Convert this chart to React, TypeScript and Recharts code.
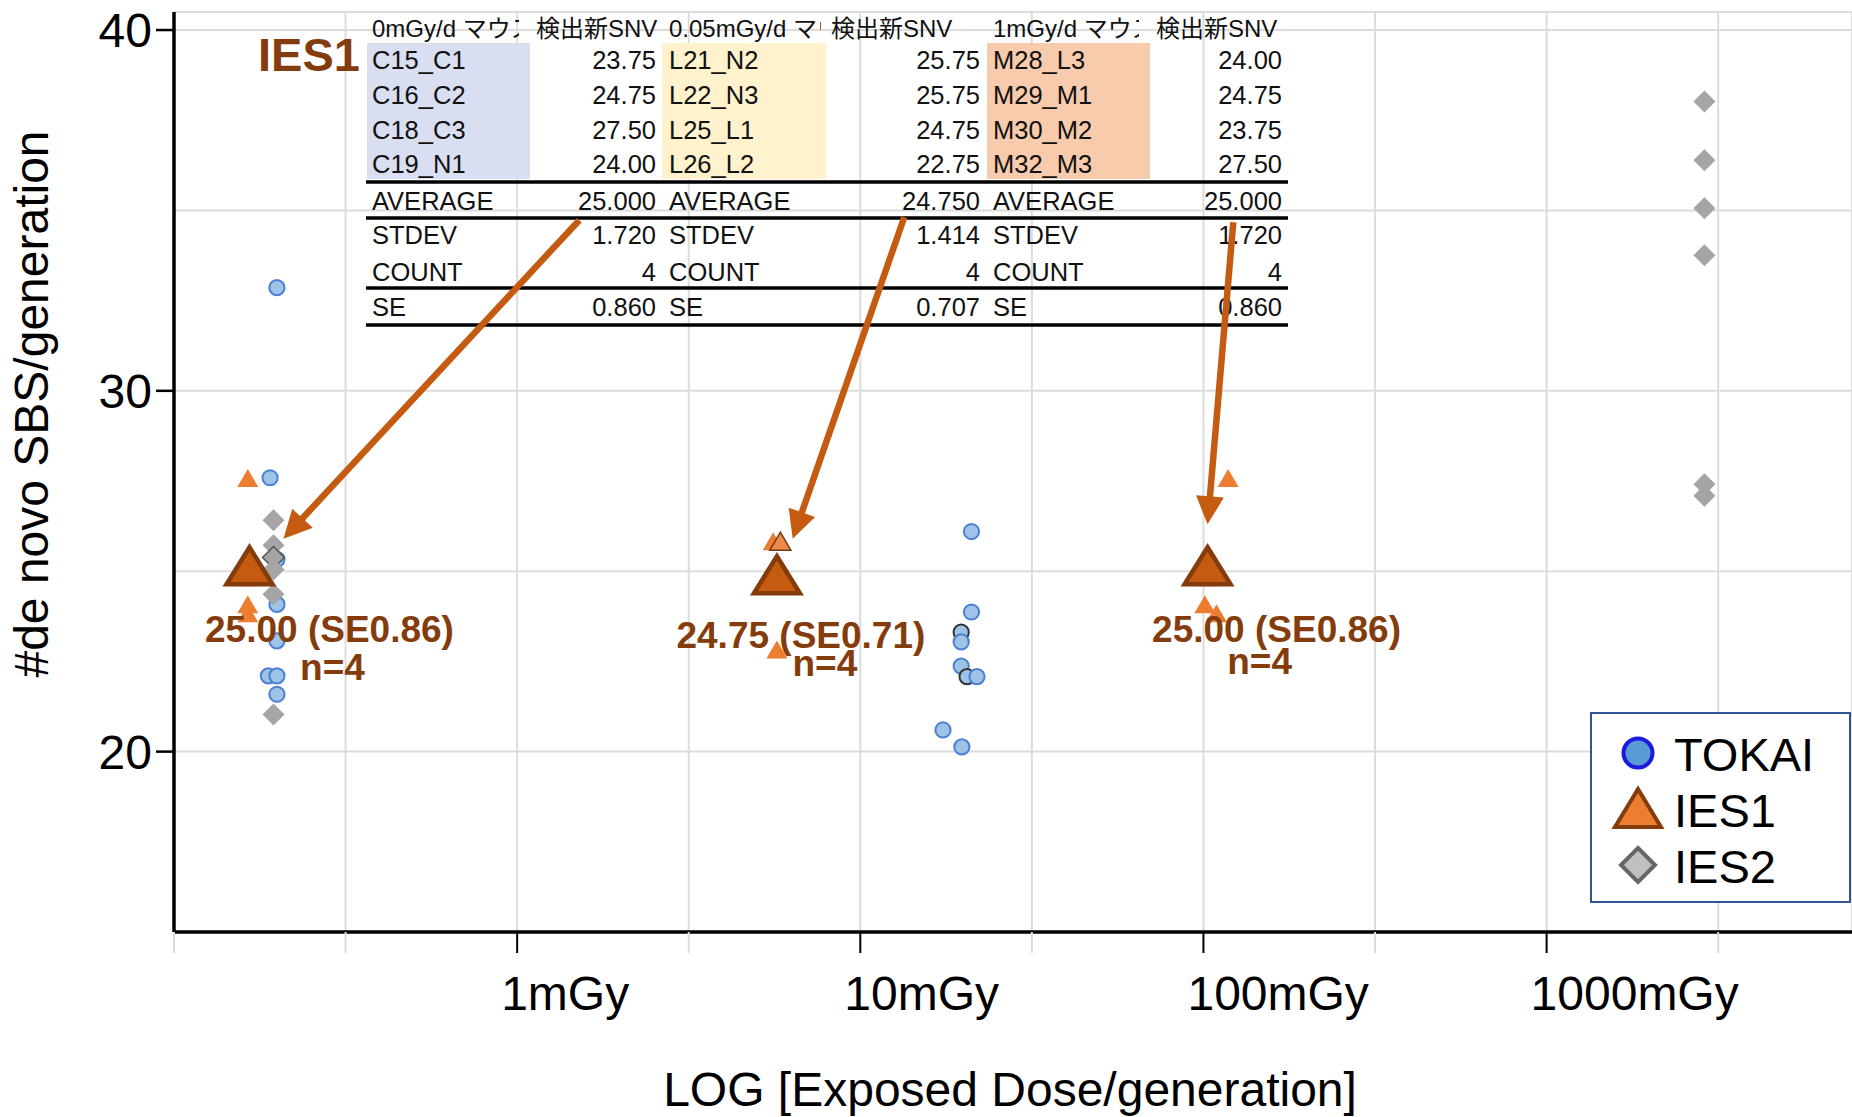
import React from 'react'
import {
  ScatterChart, Scatter, XAxis, YAxis, CartesianGrid, ReferenceLine, Legend,
} from 'recharts'

const W = 1852
const H = 1117
const SANS = '"Liberation Sans", Arial, Helvetica, sans-serif'
const SANS_JP = '"Liberation Sans", Arial, "Noto Sans CJK JP", sans-serif'
const BROWN = '#843C0C'
const RUST = '#C55A11'

// x = log10(dose per generation, mGy); the 0 dose mice are parked left of 1mGy
const X_TICKS = [-1, -0.5, 0, 0.5, 1, 1.5, 2, 2.5, 3, 3.5]
const X_LABELS = ['1mGy', '10mGy', '100mGy', '1000mGy']
const Y_TICKS = [15, 20, 25, 30, 35, 40]

const TOKAI_X = [-0.7, -0.72, -0.7, -0.7, -0.7, -0.725, -0.7, -0.7,
  1.324, 1.324, 1.294, 1.294, 1.294, 1.311, 1.34, 1.241, 1.296]
const TOKAI_Y = [32.86, 27.59, 25.33, 24.08, 23.07, 22.1, 22.1, 21.59,
  26.1, 23.87, 23.31, 23.04, 22.37, 22.08, 22.08, 20.6, 20.13]
const TOKAI_OUTLINED = [10, 13]

const IES2_X = [-0.71, -0.71, -0.71, -0.71, -0.71, -0.71, 3.46, 3.46, 3.46, 3.46, 3.46, 3.46]
const IES2_Y = [26.41, 25.72, 25.38, 25.05, 24.36, 21.03, 38.02, 36.39, 35.06, 33.76, 27.41, 27.09]
const IES2_OUTLINED = [2]

// IES1 sheet: 3 dose groups x 4 mice
const HEADS = ['0mGy/d マウス', '0.05mGy/d マウス', '1mGy/d マウス']
const MICE_0 = ['C15_C1', 'C16_C2', 'C18_C3', 'C19_N1']
const MICE_005 = ['L21_N2', 'L22_N3', 'L25_L1', 'L26_L2']
const MICE_1 = ['M28_L3', 'M29_M1', 'M30_M2', 'M32_M3']
const SNV_0 = [23.75, 24.75, 27.5, 24.0]
const SNV_005 = [25.75, 25.75, 24.75, 22.75]
const SNV_1 = [24.0, 24.75, 23.75, 27.5]
const IES1_X_0 = [-0.785, -0.785, -0.785, -0.785]
const IES1_X_005 = [0.746, 0.767, 0.755, 0.757]
const IES1_X_1 = [2.004, 2.012, 2.038, 2.072]
const MEAN_X = [-0.78, 0.757, 2.012]

// arrows from the sheet down to the group means, [from, to] in data units
const ARROWS = [
  [[0.181, 34.73], [-0.681, 25.9]],
  [[1.128, 34.81], [0.803, 25.9]],
  [[2.087, 34.67], [2.012, 26.3]],
]

const stats = (v: number[]) => {
  const n = v.length
  const avg = v.reduce((s, d) => s + d, 0) / n
  const sd = Math.sqrt(v.reduce((s, d) => s + (d - avg) ** 2, 0) / (n - 1))
  return { n, avg, sd, se: sd / Math.sqrt(n) }
}

const groups = [
  { head: HEADS[0], mice: MICE_0, snv: SNV_0, xs: IES1_X_0 },
  { head: HEADS[1], mice: MICE_005, snv: SNV_005, xs: IES1_X_005 },
  { head: HEADS[2], mice: MICE_1, snv: SNV_1, xs: IES1_X_1 },
].map((g) => ({ ...g, ...stats(g.snv) }))

const tokai = TOKAI_X.map((x, i) => ({ x, y: TOKAI_Y[i], hl: TOKAI_OUTLINED.includes(i) }))
const ies2 = IES2_X.map((x, i) => ({ x, y: IES2_Y[i], hl: IES2_OUTLINED.includes(i) }))
const ies1 = groups.flatMap((g, gi) => g.snv.map((y, k) => ({ x: g.xs[k], y, hl: gi === 1 && k === 1 })))
const means = groups.map((g, gi) => ({
  x: MEAN_X[gi], y: g.avg, g: gi,
  note: `${g.avg.toFixed(2)} (SE${g.se.toFixed(2)})`, n: g.n,
}))

// label offsets from each mean marker: [dx1, dy1, dx2, dy2]
const NOTE_OFFSET = [[80, 71, 83, 109], [24, 68, 48, 96], [69, 71, 52, 103]]

const tri = (cx: number, cy: number, hw: number, up: number, down: number) =>
  `${cx},${cy - up} ${cx + hw},${cy + down} ${cx - hw},${cy + down}`

const TokaiDot = (p: any) => (
  <circle cx={p.cx} cy={p.cy} r={7.6} fill="#9DC3E6"
    stroke={p.payload.hl ? '#333' : '#4A7FD4'} strokeWidth={2} />
)

const Ies1Dot = (p: any) => (
  <polygon points={tri(p.cx, p.cy, 10.5, 12, 6)} fill={p.payload.hl ? '#EE8A48' : '#ED7D31'}
    stroke={p.payload.hl ? '#6B3A1A' : 'none'} strokeWidth={1.5} />
)

const Ies2Dot = (p: any) => {
  const { cx, cy } = p
  const h = 11
  return (
    <polygon points={`${cx},${cy - h} ${cx + h},${cy} ${cx},${cy + h} ${cx - h},${cy}`}
      fill="#A5A5A5" stroke={p.payload.hl ? '#555' : 'none'} strokeWidth={1.5} />
  )
}

const MeanMark = (p: any) => {
  const { cx, cy, payload } = p
  const o = NOTE_OFFSET[payload.g]
  return (
    <g>
      <polygon points={tri(cx, cy, 23, 24, 13)} fill={RUST} stroke={BROWN} strokeWidth={4.5} />
      <g fontFamily={SANS} fontSize={37} fontWeight="bold" fill={BROWN} textAnchor="middle">
        <text x={cx + o[0]} y={cy + o[1]}>{payload.note}</text>
        <text x={cx + o[2]} y={cy + o[3]}>n={payload.n}</text>
      </g>
    </g>
  )
}

const Arrow = (p: any) => {
  const { x1, y1, x2, y2 } = p
  if (x1 == null) return null
  const L = Math.hypot(x2 - x1, y2 - y1)
  const ux = (x2 - x1) / L
  const uy = (y2 - y1) / L
  const bx = x2 - ux * 28
  const by = y2 - uy * 28
  return (
    <g>
      <line x1={x1} y1={y1} x2={bx + ux * 2} y2={by + uy * 2} stroke={RUST} strokeWidth={6.5} />
      <polygon points={`${x2},${y2} ${bx - uy * 14},${by + ux * 14} ${bx + uy * 14},${by - ux * 14}`} fill={RUST} />
    </g>
  )
}

const XTick = (p: any) => {
  const { x, y, payload } = p
  const v = payload.value
  const major = v >= 0 && Number.isInteger(v)
  return (
    <g>
      <line x1={x} x2={x} y1={y} y2={y + 21} stroke={major ? '#000' : '#DCDCDC'} strokeWidth={2} />
      {major && (
        <text x={x - 16} y={y + 78} fontSize={48} fontFamily={SANS} fill="#000">{X_LABELS[v]}</text>
      )}
    </g>
  )
}

const YTick = (p: any) => {
  const { x, y, payload } = p
  const v = payload.value
  if (v % 10 !== 0) return <g />
  return (
    <g>
      <line x1={x - 18} x2={x} y1={y} y2={y} stroke="#000" strokeWidth={2.5} />
      <text x={x - 22} y={y + 17} textAnchor="end" fontSize={48} fontFamily={SANS} fill="#000">{v}</text>
    </g>
  )
}

const YTitle = () => (
  <text transform="translate(48, 404) rotate(-90)" textAnchor="middle" fontSize={48} fontFamily={SANS} fill="#000">
    #de novo SBS/generation
  </text>
)

const XTitle = (p: any) => {
  const vb = p.viewBox || { x: 174, width: 1678 }
  return (
    <text x={vb.x + vb.width / 2 - 3} y={1106} textAnchor="middle" fontSize={48} fontFamily={SANS} fill="#000">
      LOG [Exposed Dose/generation]
    </text>
  )
}

const LEGEND_ORDER = ['TOKAI', 'IES1', 'IES2']

const legendIcon = (name: string, cx: number, cy: number) => {
  if (name === 'TOKAI') return <circle cx={cx} cy={cy} r={14.5} fill="#5B9BD5" stroke="#1B1BE0" strokeWidth={4} />
  if (name === 'IES1') return <polygon points={tri(cx, cy, 23, 20, 18)} fill="#ED7D31" stroke={BROWN} strokeWidth={4} />
  const h = 17
  return (
    <polygon points={`${cx},${cy - h} ${cx + h},${cy} ${cx},${cy + h} ${cx - h},${cy}`}
      fill="#C0C0C0" stroke="#666" strokeWidth={4} />
  )
}

const LegendBox = (props: any) => {
  const names = (props.payload || []).map((e: any) => e.value)
  const items = LEGEND_ORDER.filter((n) => names.includes(n))
  return (
    <svg width={262} height={192} style={{ display: 'block' }}>
      <rect x={1} y={1} width={259} height={189} fill="#fff" stroke="#2F5597" strokeWidth={2} />
      {items.map((name, i) => {
        const cy = 41 + i * 56
        return (
          <g key={name}>
            {legendIcon(name, 48, cy)}
            <text x={84} y={cy + 17.5} fontSize={47} fontFamily={SANS} fill="#000">{name}</text>
          </g>
        )
      })}
    </svg>
  )
}

// the pasted spreadsheet block above the plot
function SnvTable() {
  const labelX = [372, 669, 993]
  const valueX = [656, 980, 1282]
  const headCut = [519, 821, 1139]
  const headValX = [536, 831, 1156]
  const fills = [[367, 530, '#D9DFF1'], [662, 826, '#FFF2CC'], [987, 1150, '#F8CBAD']]
  const rowBase = [69, 104, 138.7, 173.3]
  const statBase = [210, 244.3, 280.7, 316]
  const rules = [182, 218, 288, 325]
  const statNames = ['AVERAGE', 'STDEV', 'COUNT', 'SE']
  return (
    <g fontFamily={SANS_JP} fontSize={25.5} fill="#111">
      <defs>
        {headCut.map((c, i) => (
          <clipPath key={i} id={`headclip${i}`}>
            <rect x={labelX[i] - 6} y={0} width={c - labelX[i] + 6} height={45} />
          </clipPath>
        ))}
      </defs>
      {fills.map(([a, b, c], i) => (
        <rect key={i} x={a as number} y={43} width={(b as number) - (a as number)} height={136} fill={c as string} />
      ))}
      {groups.map((g, i) => {
        const statVals = [g.avg.toFixed(3), g.sd.toFixed(3), String(g.n), g.se.toFixed(3)]
        return (
          <g key={i}>
            <text x={labelX[i]} y={37} fontSize={24} clipPath={`url(#headclip${i})`}>{g.head}</text>
            <text x={headValX[i]} y={37} fontSize={24}>検出新SNV</text>
            {g.mice.map((m, k) => (
              <g key={m}>
                <text x={labelX[i]} y={rowBase[k]}>{m}</text>
                <text x={valueX[i]} y={rowBase[k]} textAnchor="end">{g.snv[k].toFixed(2)}</text>
              </g>
            ))}
            {statNames.map((s, k) => (
              <g key={s}>
                <text x={labelX[i]} y={statBase[k]}>{s}</text>
                <text x={valueX[i]} y={statBase[k]} textAnchor="end">{statVals[k]}</text>
              </g>
            ))}
          </g>
        )
      })}
      {rules.map((y) => (
        <line key={y} x1={366} x2={1288} y1={y} y2={y} stroke="#000" strokeWidth={3.5} />
      ))}
      <text x={258} y={71} fontSize={47} fontWeight="bold" fontFamily={SANS} fill={BROWN}>IES1</text>
    </g>
  )
}

export default function App() {
  return (
    <div style={{ position: 'absolute', left: 0, top: 0, width: W, height: H, background: '#fff', fontFamily: SANS }}>
      <ScatterChart width={W} height={H} margin={{ top: 12, right: 0, bottom: 0, left: 0 }}>
        <CartesianGrid stroke="#DCDCDC" strokeWidth={2} />
        <SnvTable />
        <XAxis type="number" dataKey="x" domain={[-1, 3.89]} ticks={X_TICKS} interval={0}
          allowDataOverflow height={185} tickSize={0} tickMargin={0} tickLine={false}
          axisLine={{ stroke: '#000', strokeWidth: 3.5 }} tick={XTick} label={XTitle} />
        <YAxis type="number" dataKey="y" domain={[15, 40.5]} ticks={Y_TICKS} interval={0}
          allowDataOverflow width={174} tickSize={0} tickMargin={0} tickLine={false}
          axisLine={{ stroke: '#000', strokeWidth: 3.5 }} tick={YTick} label={YTitle} />
        <Scatter name="TOKAI" data={tokai} fill="#5B9BD5" shape={TokaiDot} isAnimationActive={false} />
        <Scatter name="IES2" data={ies2} fill="#A5A5A5" shape={Ies2Dot} isAnimationActive={false} />
        <Scatter name="IES1" data={ies1} fill="#ED7D31" shape={Ies1Dot} isAnimationActive={false} />
        <Scatter name="IES1 mean" data={means} fill={RUST} shape={MeanMark} legendType="none"
          isAnimationActive={false} />
        {ARROWS.map(([a, b], i) => (
          <ReferenceLine key={i} segment={[{ x: a[0], y: a[1] }, { x: b[0], y: b[1] }]}
            shape={Arrow} ifOverflow="visible" />
        ))}
        <Legend layout="vertical" align="center" verticalAlign="middle" content={LegendBox}
          wrapperStyle={{ left: 1590, top: 712, width: 262, height: 192 }} />
      </ScatterChart>
    </div>
  )
}
